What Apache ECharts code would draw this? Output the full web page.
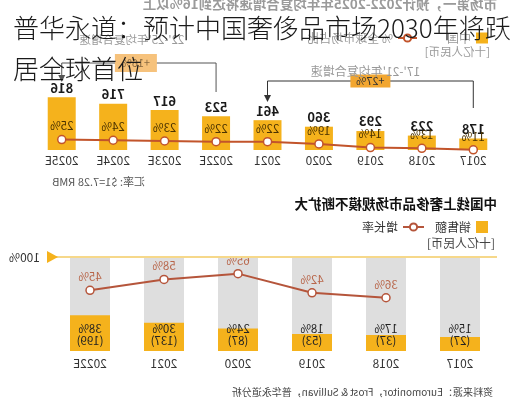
<!DOCTYPE html>
<html><head><meta charset="utf-8">
<script src="https://cdn.jsdelivr.net/npm/echarts@6/dist/echarts.min.js"></script>
<style>
html,body{margin:0;padding:0;background:#fff;}
#wrap{position:relative;width:517px;height:400px;overflow:hidden;background:#fff;}
#chart{position:absolute;left:0;top:0;width:517px;height:400px;transform:scaleX(-1);}
#title{position:absolute;left:0;top:0;width:517px;height:400px;}
</style></head><body>
<div id="wrap"><div id="chart"></div><div id="title"></div></div>
<script>
// ---- data ----
const topYears = ['2017','2018','2019','2020','2021','2022E','2023E','2024E','2025E'];
const chinaSales = [178,223,293,360,461,523,617,716,816];
const globalShare = [11,13,14,19,22,22,23,24,25];
const onlineYears = ['2017','2018','2019','2020','2021','2022E'];
const onlineSales = [27,37,53,87,137,199];
const onlineShare = [15,17,18,24,30,38];
const onlineGrowth = [null,36,42,65,58,45];
const fullShare = [100,100,100,100,100,100];
const cagr1721 = '+27%';
const cagr2225 = '+16%';

const FONT = "'Noto Sans CJK SC','Noto Sans',sans-serif";
const YEL = '#F5B21C';
const LINE1 = '#C2542B';
const LINE2 = '#B5553B';

const chart = echarts.init(document.getElementById('chart'));
chart.setOption({
  animation:false,
  textStyle:{fontFamily:FONT},
  grid:[{left:18,right:36,top:40,bottom:250},{left:20,right:53,top:257,bottom:49}],
  xAxis:[
    {type:'category',gridIndex:0,data:topYears,axisLine:{show:false},axisTick:{show:false},
     axisLabel:{margin:4,fontSize:12,color:'#333'}},
    {type:'category',gridIndex:1,data:onlineYears,axisLine:{show:false},axisTick:{show:false},
     axisLabel:{margin:6,fontSize:12,color:'#333'}}
  ],
  yAxis:[
    {type:'value',gridIndex:0,min:0,max:1700,show:false},
    {type:'value',gridIndex:0,min:10.7,max:161,show:false},
    {type:'value',gridIndex:1,min:0,max:100,interval:100,position:'right',
     axisLine:{show:false},axisTick:{show:false},splitLine:{show:false},
     axisLabel:{margin:13,fontSize:12,color:'#333',formatter:v=>v===100?'100%':''}},
    {type:'value',gridIndex:1,min:-28,max:85,show:false}
  ],
  legend:[
    {left:24,top:27,itemWidth:12,itemHeight:11,itemGap:5,data:[{name:'中国',icon:'rect'}],
     textStyle:{fontSize:12,color:'#999'}},
    {left:94,top:27,itemWidth:19,itemHeight:9,data:['% 全球市场占比'],
     textStyle:{fontSize:12,color:'#999'}},
    {left:24,top:216,itemWidth:12,itemHeight:12,data:[{name:'销售额',icon:'rect'}],
     textStyle:{fontSize:12,color:'#333'}},
    {left:87,top:216,itemWidth:21,itemHeight:9,data:['增长率'],
     textStyle:{fontSize:12,color:'#333'}}
  ],
  series:[
    {name:'中国',type:'bar',xAxisIndex:0,yAxisIndex:0,data:chinaSales,barWidth:28,
     itemStyle:{color:YEL},
     label:{show:true,position:'top',distance:3,fontSize:13,fontWeight:'bold',color:'#1a1a1a'}},
    {name:'% 全球市场占比',type:'line',xAxisIndex:0,yAxisIndex:1,data:globalShare,
     symbol:'circle',symbolSize:8,itemStyle:{color:'#fff',borderColor:LINE1,borderWidth:1.5},
     lineStyle:{color:LINE1,width:2},
     label:{show:true,position:'top',distance:3,formatter:'{c}%',fontSize:11.5,color:'#4a3200'}},
    {name:'bg',type:'bar',xAxisIndex:1,yAxisIndex:2,data:fullShare,barWidth:40,barGap:'-100%',silent:true,
     itemStyle:{color:'#dedede'},
     markLine:{silent:true,symbol:'none',label:{show:false},
       lineStyle:{color:'#f6d88a',width:2,type:'solid'},data:[{yAxis:100}]}},
    {name:'销售额',type:'bar',xAxisIndex:1,yAxisIndex:2,data:onlineShare,barWidth:40,barGap:'-100%',
     itemStyle:{color:YEL},
     label:{show:true,position:'insideBottom',distance:4,fontSize:11.5,lineHeight:12,color:'#222',
       formatter:p=>p.value+'%\n('+onlineSales[p.dataIndex]+')'}},
    {name:'增长率',type:'line',xAxisIndex:1,yAxisIndex:3,data:onlineGrowth,
     symbol:'circle',symbolSize:8,itemStyle:{color:'#fff',borderColor:LINE2,borderWidth:1.5},
     lineStyle:{color:LINE2,width:2},
     label:{show:true,position:'top',distance:3,formatter:'{c}%',fontSize:11.5,color:'#b8664a'}}
  ]
});

// annotations positioned through the axes
const px = c => chart.convertToPixel({xAxisIndex:0,yAxisIndex:0},[c,0])[0];
const x17=px('2017'), x21=px('2021'), x22=px('2022E'), x25=px('2025E');
const pb = chart.convertToPixel({xAxisIndex:1,yAxisIndex:2},['2022E',100]);
const pb2 = chart.convertToPixel({xAxisIndex:1,yAxisIndex:2},['2021',100]);
const edge = pb[0] + (pb[0]-pb2[0])/2;
const m1=(x17+x21)/2, m2=(x22+x25)/2;
const txt=(t,x,y,o)=>({type:'text',x:x,y:y,z:10,style:Object.assign({text:t,fontFamily:FONT,fontSize:12,fill:'#333',align:'left',verticalAlign:'middle'},o||{})});
chart.setOption({graphic:[
  txt('市场第一，预计2022-2025年年均复合增速将达到16%以上',20,4,{fontSize:13.5,fontWeight:'bold',fill:'#9a9a9a'}),
  txt('[十亿人民币]',27,52,{fontSize:11.5,fill:'#999'}),
  // 17-21 bracket
  {type:'polyline',z:5,shape:{points:[[x17,108],[x17,81],[x21,81],[x21,96]]},style:{stroke:'#333',lineWidth:1,fill:null}},
  {type:'polygon',z:5,shape:{points:[[x21-3.5,95],[x21+3.5,95],[x21,102]]},style:{fill:'#333'}},
  {type:'rect',z:6,shape:{x:m1-20,y:74.5,width:40,height:13},style:{fill:'#F2A630'}},
  txt(cagr1721,m1,81,{align:'center',fontSize:11,fill:'#333'}),
  txt("17'-21'年均复合增速",m1+5,71,{align:'center',fontSize:12,fill:'#999'}),
  // 22-25 bracket
  {type:'polyline',z:5,shape:{points:[[x22,92],[x22,63],[x25,63],[x25,76]]},style:{stroke:'#555',lineWidth:1,fill:null}},
  {type:'polygon',z:5,shape:{points:[[x25-3.5,75],[x25+3.5,75],[x25,82]]},style:{fill:'#555'}},
  {type:'rect',z:6,shape:{x:m2-21+3,y:54,width:42,height:18},style:{fill:'#F6C27C'}},
  txt(cagr2225,m2+3,63,{align:'center',fontSize:11,fill:'#8a6a40'}),
  txt("22'-25'年均复合增速",m2+7,40,{align:'center',fontSize:11.5,fill:'#999'}),
  txt('汇率: $1=7.28 RMB',372,182,{fontSize:11,fill:'#555'}),
  // bottom chart
  txt('中国线上奢侈品市场规模不断扩大',20,204,{fontSize:13.5,fontWeight:'bold',fill:'#111'}),
  txt('[十亿人民币]',22,243,{fontSize:12,fill:'#444'}),
  {type:'polygon',z:8,shape:{points:[[edge-5,pb[1]],[edge+6,pb[1]-6],[edge+6,pb[1]+6]]},style:{fill:'#F5B21C'}},
  txt('资料来源：Euromonitor，Frost & Sullivan，普华永道分析',24,392,{fontSize:10,fill:'#444'})
]});

const t = echarts.init(document.getElementById('title'));
t.setOption({animation:false,title:{text:'普华永道：预计中国奢侈品市场2030年将跃\n居全球首位',left:8,top:3,
  textStyle:{fontSize:26,fontWeight:300,color:'#1a1a1a',lineHeight:41,fontFamily:FONT}}});
</script>
</body></html>
